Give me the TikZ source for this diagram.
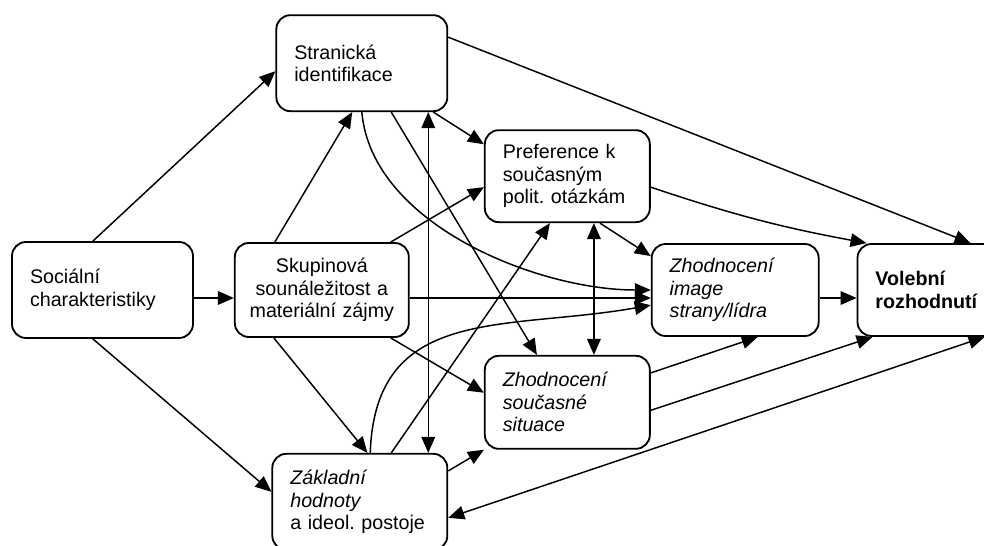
\documentclass[tikz,border=0pt]{standalone}
\usepackage{fontspec}
\setsansfont{Liberation Sans}
\usepackage{tikz}
\usetikzlibrary{positioning,arrows.meta,calc}

\begin{document}
\begin{tikzpicture}[
	node distance=1cm,
	font=\sffamily\fontsize{14}{16}\selectfont,
	>={Triangle[length=4mm,width=3.4mm]},
	% Define styles for the boxes and connectors
	box/.style={rectangle, draw, line width=1.3pt, rounded corners=0.35cm, align=left, inner xsep=0.45cm, minimum height=2.35cm},
	slant/.style={font=\sffamily\itshape\fontsize{14}{16}\selectfont},
	strong/.style={font=\sffamily\bfseries\fontsize{14}{16}\selectfont},
	arrow/.style={->, line width=1.05pt},
	both/.style={<->, line width=1.05pt}
	]

	\useasboundingbox (0,0) rectangle (24.6,-13.625);

	% --- Nodes ---
	\node (social) [box, text width=3.625cm, minimum height=2.4cm] at (2.5625,-7.25) {Sociální\\charakteristiky};

	\node (group) [box, align=center, inner xsep=0.2cm, text width=3.95cm, right=of social] {Skupinová\\sounáležitost a\\materiální zájmy};

	\node (party) [box, text width=3.375cm, minimum height=2.4cm, above=3.25cm of group, xshift=1cm] {Stranická\\identifikace};

	\node (values) [box, text width=3.475cm, minimum height=2.4cm, below=2.875cm of group, xshift=0.95cm] {\textit{Základní}\\\textit{hodnoty}\\a ideol.\ postoje};

	% Middle column
	\node (image) [box, slant, text width=3.275cm, minimum height=2.3cm, right=6.025cm of group] {Zhodnocení\\image\\strany/lídra};

	\node (pref) [box, text width=3.225cm, minimum height=2.3cm, above left=0.5cm and 0cm of image] {Preference k\\současným\\polit.\ otázkám};

	\node (situation) [box, slant, text width=3.225cm, minimum height=2.325cm, below left=0.45cm and 0cm of image] {Zhodnocení\\současné\\situace};

	% Right side: the decision
	\node (vote) [box, strong, text width=2.8cm, minimum height=2.3cm, right=0.925cm of image] {Volební\\rozhodnutí};

	% --- Arrows ---
	\draw[arrow] ([xshift=-0.24cm]social.north) -- ([yshift=-0.2cm]party.west);
	\draw[arrow] ([yshift=-0.2cm]social.east) -- ([yshift=-0.2cm]group.west);
	\draw[arrow] ([xshift=-0.24cm]social.south) -- ([yshift=0.25cm]values.west);

	\draw[arrow] ([xshift=-1.175cm]group.north) -- ([xshift=-0.24cm]party.south);
	\draw[arrow] ([xshift=-0.475cm]group.north east) -- ([yshift=-0.275cm]pref.west);
	\draw[arrow] ([yshift=-0.2cm]group.east) -- ([yshift=-0.2cm]image.west);
	\draw[arrow] ([xshift=-1.2cm]group.south) -- ([xshift=0.19cm]values.north);
	\draw[arrow] ([xshift=-0.475cm]group.south east) -- ([yshift=0.24cm]situation.west);

	% From the party identification
	\draw[arrow] ([yshift=0.65cm]party.east) -- ([xshift=2.85cm]vote.north west);
	\draw[arrow] ([xshift=-0.375cm]party.south east) -- ([yshift=-0.375cm]pref.north west);
	\draw[arrow] (party.south) to[out=-85, in=180, looseness=0.85] (image.west);
	\draw[arrow] ([xshift=-1.425cm]party.south east) -- ([xshift=1.325cm]situation.north west);
	\draw[both] ([xshift=-0.5cm]party.south east) -- ([xshift=-0.5cm]values.north east);

	% From the issue preferences
	\draw[both] ([xshift=2.75cm]pref.south west) -- ([xshift=2.75cm]situation.north west);
	\draw[arrow] ([xshift=2.9cm]pref.south west) -- ([yshift=-0.325cm]image.north west);
	\draw[arrow] ([yshift=-0.275cm]pref.east) to[bend right=4] ([xshift=0.25cm]vote.north west);

	\draw[arrow] ([yshift=-0.2cm]image.east) -- ([yshift=-0.2cm]vote.west);

	\draw[arrow] ([yshift=-0.45cm]situation.north east) -- ([xshift=2.675cm]image.south west);
	\draw[arrow] ([yshift=-0.2cm]situation.east) -- ([xshift=0.4cm]vote.south west);

	% From the basic values
	\draw[arrow] ([xshift=0.26cm]values.north) to[out=88, in=190, looseness=1.2] ([yshift=-0.38cm]image.west);
	\draw[arrow] ([xshift=-1.425cm]values.north east) -- ([xshift=1.65cm]pref.south west);
	\draw[arrow] ([yshift=-0.45cm]values.north east) -- (situation.south west);
	\draw[both] ([yshift=-0.4cm]values.east) -- ([xshift=3.2cm]vote.south west);

\end{tikzpicture}
\end{document}
